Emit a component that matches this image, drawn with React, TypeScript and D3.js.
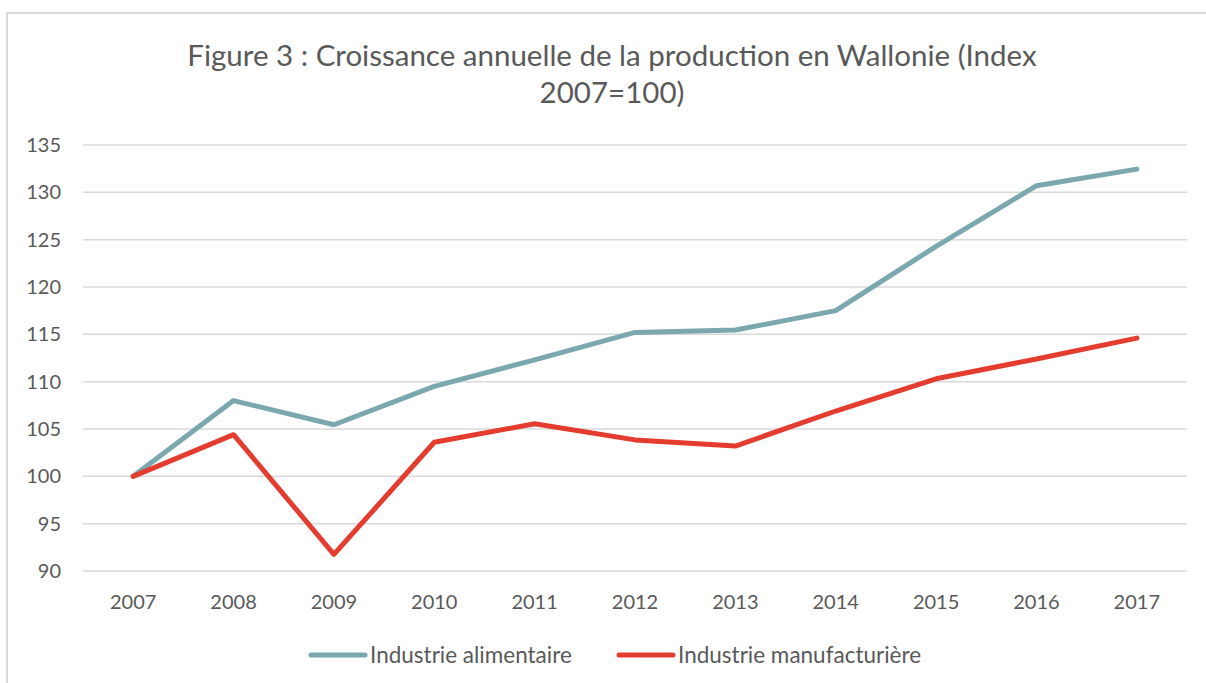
import React from "react";
import * as d3 from "d3";

const years = ["2007","2008","2009","2010","2011","2012","2013","2014","2015","2016","2017"];
const alimentaire = [100, 108.0, 105.45, 109.5, 112.3, 115.2, 115.45, 117.5, 124.3, 130.7, 132.45];
const manufacturiere = [100, 104.4, 91.75, 103.6, 105.55, 103.85, 103.2, 106.9, 110.3, 112.4, 114.6];
const yTicks = [90, 95, 100, 105, 110, 115, 120, 125, 130, 135];
const seriesNames = ["Industrie alimentaire", "Industrie manufacturière"];
const colors = ["#7BA7AE", "#E43D30"];
const titleLines = ["Figure 3 : Croissance annuelle de la production en Wallonie (Index", "2007=100)"];

const W = 1206, H = 683;
const font = "Lato, 'Open Sans', sans-serif";

export default function App() {
  const x = d3.scaleBand<string>().domain(years).range([83, 1187]);
  const y = d3.scaleLinear().domain([90, 135]).range([571, 145]);
  const cx = (d: string) => (x(d) as number) + x.bandwidth() / 2;
  const line = d3.line<number>().x((_, i) => cx(years[i])).y(v => y(v));
  const data = [alimentaire, manufacturiere];
  return (
    <svg width={W} height={H} style={{ position: "absolute", left: 0, top: 0, background: "#fff" }}>
      <rect x={7} y={13} width={W + 20} height={H + 20} fill="#fff" stroke="#D9D9D9" strokeWidth={2} />
      {titleLines.map((t, i) => (
        <text key={i} x={612} y={65.5 + i * 37} textAnchor="middle" fontFamily={font} fontSize={29.5} fill="#595959">{t}</text>
      ))}
      {yTicks.map(t => (
        <g key={t}>
          <line x1={83} x2={1187} y1={y(t)} y2={y(t)} stroke="#D9D9D9" strokeWidth={1.5} />
          <text x={61} y={y(t)} dy="0.35em" textAnchor="end" fontFamily={font} fontSize={20} fill="#595959">{t}</text>
        </g>
      ))}
      {years.map(yr => (
        <text key={yr} x={cx(yr)} y={602} dy="0.35em" textAnchor="middle" fontFamily={font} fontSize={20} fill="#595959">{yr}</text>
      ))}
      {data.map((s, i) => (
        <path key={i} d={line(s) as string} fill="none" stroke={colors[i]} strokeWidth={5} strokeLinejoin="round" strokeLinecap="round" />
      ))}
      {seriesNames.map((n, i) => {
        const lx = i === 0 ? 311 : 619;
        return (
          <g key={n}>
            <line x1={lx} x2={lx + 54} y1={655} y2={655} stroke={colors[i]} strokeWidth={5} strokeLinecap="round" />
            <text x={lx + 59} y={655} dy="0.35em" fontFamily={font} fontSize={22.5} fill="#595959">{n}</text>
          </g>
        );
      })}
    </svg>
  );
}
